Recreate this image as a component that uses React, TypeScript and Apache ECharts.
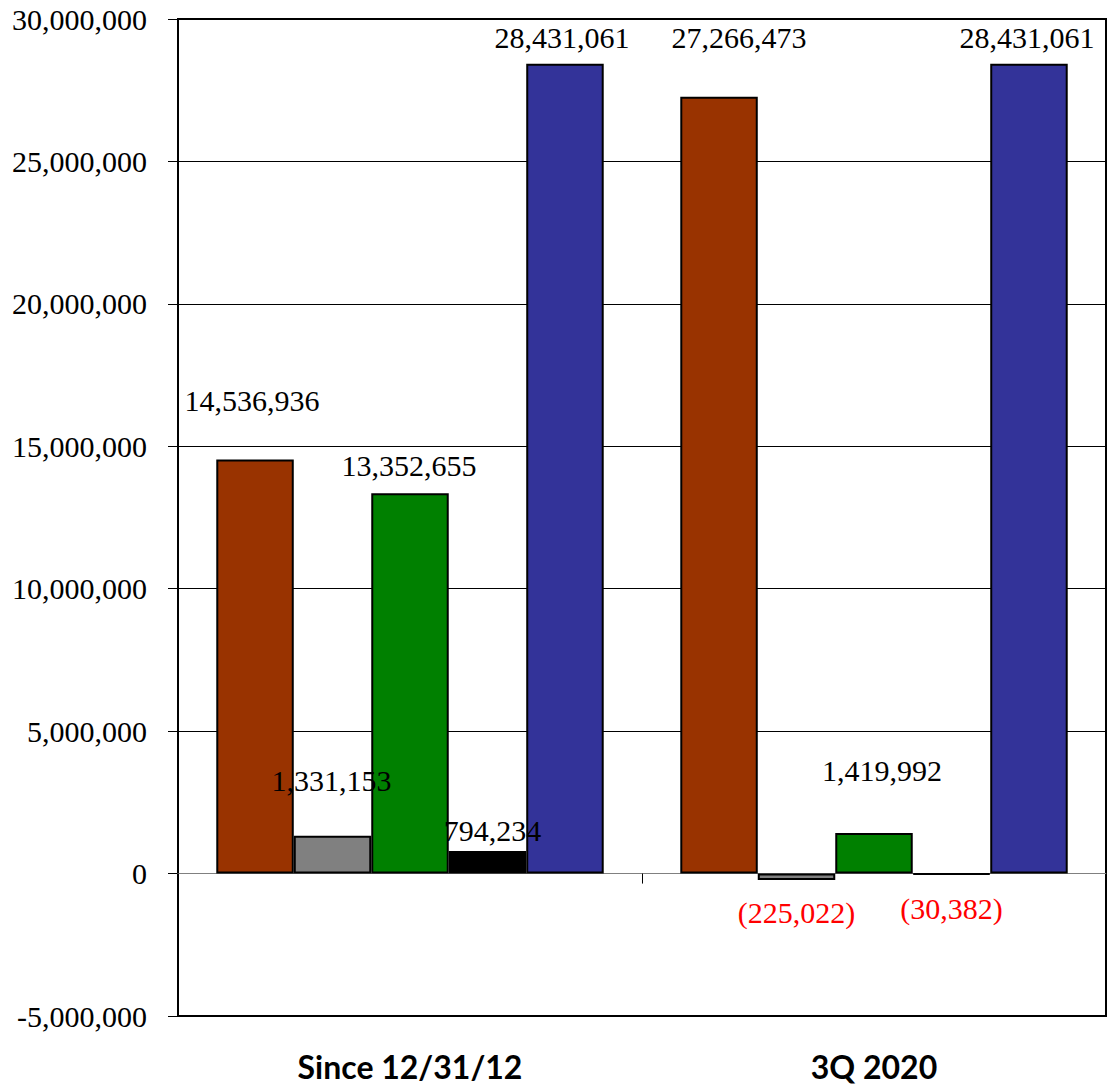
import React, { useEffect, useRef } from "react";
import * as echarts from "echarts";

const categories = ["Since 12/31/12", "3Q 2020"];
const seriesNames = ["Series A", "Series B", "Series C", "Series D", "Series E"];
const seriesA = [14536936, 27266473];
const seriesB = [1331153, -225022];
const seriesC = [13352655, 1419992];
const seriesD = [794234, -30382];
const seriesE = [28431061, 28431061];
const yTicks = { min: -5000000, max: 30000000, interval: 5000000 };

const colors = ["#993300", "#808080", "#008000", "#000000", "#333399"];
// label nudges [dx, dy] per series per category (style only)
const nudges = [
  [[-3, -39], [20, -39]],
  [[-1, -35], [0, 13]],
  [[-1, -8], [8, -43]],
  [[5, 0], [0, 13]],
  [[-3, -6], [-2, -6]],
];

const fmt = (v: number) => {
  const s = Math.abs(v).toLocaleString("en-US");
  return v < 0 ? `(${s})` : s;
};

export default function App() {
  const ref = useRef<HTMLDivElement>(null);
  useEffect(() => {
    if (!ref.current) return;
    document.body.style.margin = "0";
    document.body.style.overflow = "hidden";
    const chart = echarts.init(ref.current, undefined, { renderer: "svg" });
    const allSeries = [seriesA, seriesB, seriesC, seriesD, seriesE];
    const serif = "Liberation Serif";
    chart.setOption({
      animation: false,
      grid: {
        left: 178,
        right: 3,
        top: 19,
        bottom: 68,
        show: true,
        borderColor: "#000",
        borderWidth: 2,
        backgroundColor: "transparent",
      },
      xAxis: [
        {
          type: "category",
          data: categories,
          z: 1,
          axisLine: { onZero: true, lineStyle: { color: "#808080", width: 1 } },
          axisTick: { show: true, length: 10, lineStyle: { color: "#000" } },
          axisLabel: { show: false },
        },
        {
          type: "category",
          data: categories,
          position: "bottom",
          axisLine: { show: false, onZero: false },
          axisTick: { show: false },
          axisLabel: {
            show: true,
            margin: 50,
            color: "#000",
            fontFamily: "Lato",
            fontWeight: "bold",
            fontSize: 32,
            lineHeight: 34,
            verticalAlign: "middle",
          },
        },
      ],
      yAxis: {
        type: "value",
        min: yTicks.min,
        max: yTicks.max,
        interval: yTicks.interval,
        axisLine: { show: true, lineStyle: { color: "#000", width: 2 } },
        axisTick: { show: true, length: 10, lineStyle: { color: "#000" } },
        splitLine: { show: true, lineStyle: { color: "#000", width: 1 } },
        axisLabel: {
          margin: 31,
          color: "#000",
          fontFamily: serif,
          fontSize: 30,
          formatter: (v: number) => (v < 0 ? "-" : "") + Math.abs(v).toLocaleString("en-US"),
        },
      },
      series: allSeries.map((vals, si) => ({
        name: seriesNames[si],
        type: "bar",
        xAxisIndex: 0,
        barGap: "0%",
        barCategoryGap: "16.5%",
        itemStyle: { color: colors[si], borderColor: "#000", borderWidth: 2 },
        data: vals.map((v, ci) => ({
          value: v,
          label: {
            show: true,
            position: v < 0 ? "bottom" : "top",
            distance: 5,
            offset: nudges[si][ci],
            formatter: () => fmt(v),
            color: v < 0 ? "#ff0000" : "#000",
            fontFamily: serif,
            fontSize: 30,
            lineHeight: 30,
          },
        })),
      })),
    });
    return () => chart.dispose();
  }, []);
  return (
    <div
      ref={ref}
      style={{ position: "absolute", left: 0, top: 0, width: 1109, height: 1084 }}
    />
  );
}
